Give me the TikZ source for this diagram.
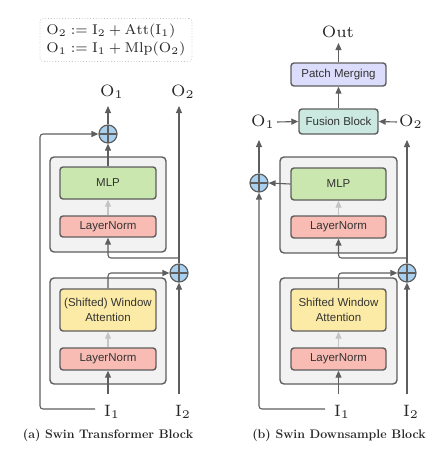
\documentclass[tikz,border=0pt]{standalone}
\usepackage{fontspec}
\newfontfamily\boxfont{Liberation Sans}
\usetikzlibrary{arrows.meta,calc}
\definecolor{lnc}{HTML}{5E5E5E}
\definecolor{graybg}{HTML}{F2F2F2}
\definecolor{mlpc}{HTML}{C9E7AE}
\definecolor{lnormc}{HTML}{F8BCB4}
\definecolor{attc}{HTML}{FCEBA6}
\definecolor{fusc}{HTML}{CBE9E1}
\definecolor{pmc}{HTML}{DCDCFC}
\definecolor{plusc}{HTML}{A9D0EE}
\definecolor{lightarr}{HTML}{C4C4C4}
\definecolor{txtc}{HTML}{333333}
\newcommand{\biglbl}[1]{\scalebox{2.35}{\fontsize{7}{8}\selectfont #1}}
\tikzset{
  arr/.style={draw=lnc,line width=1.1pt,-{Triangle[length=7pt,width=6pt]},rounded corners=3pt},
  lightarrow/.style={draw=lightarr,line width=1.1pt,-{Triangle[length=7pt,width=6pt]}},
  blk/.style={draw=lnc,line width=1.4pt,rounded corners=3pt,minimum width=96pt,align=center,
    font=\boxfont\fontsize{11.5}{14}\selectfont,text=txtc,inner sep=0pt},
  outer/.style={draw=lnc,line width=1.4pt,rounded corners=4pt,fill=graybg},
  plusnode/.style={circle,draw=lnc,line width=1.2pt,fill=plusc,minimum size=18pt,inner sep=0pt,
    path picture={\draw[lnc,line width=1.2pt] (path picture bounding box.north) -- (path picture bounding box.south)
      (path picture bounding box.west) -- (path picture bounding box.east);}},
  lbl/.style={inner sep=0pt,text=black!85},
  captext/.style={font=\bfseries\fontsize{12.4}{14}\selectfont,inner sep=0pt,text=black!85}
}
\begin{document}
\begin{tikzpicture}[x=1pt,y=-1pt]
\useasboundingbox (0,0) rectangle (447,455);
% ---------- formula box
\node[draw=lightarr,dotted,line width=0.8pt,rounded corners=3pt,minimum width=152pt,minimum height=43pt,
  inner sep=0pt,text=black!85] (formula) at (116,40)
  {\scalebox{2.02}{\fontsize{7}{8.7}\selectfont\thickmuskip=4.5mu\medmuskip=3.5mu\begin{tabular}{@{}l@{}}$\mathrm{O}_2 := \mathrm{I}_2 + \mathrm{Att}(\mathrm{I}_1)$\\$\mathrm{O}_1 := \mathrm{I}_1 + \mathrm{Mlp}(\mathrm{O}_2)$\end{tabular}}};
% ================= left panel
\draw[outer] (50,157) rectangle (166,252);
\draw[outer] (50,278) rectangle (166,384);
\node[blk,fill=mlpc,minimum height=32pt] (mlpA) at (108,183) {MLP};
\node[blk,fill=lnormc,minimum height=21pt] (ln1A) at (108,226.5) {LayerNorm};
\node[blk,fill=attc,minimum height=42pt] (attA) at (108,310) {(Shifted) Window\\[1pt]Attention};
\node[blk,fill=lnormc,minimum height=22pt] (ln2A) at (108,359) {LayerNorm};
\node[plusnode] (p1A) at (108,134) {};
\node[plusnode] (p2A) at (179,273) {};
\node[lbl] (o1A) at (112,92) {\biglbl{$\mathrm{O}_1$}};
\node[lbl] (o2A) at (183,92) {\biglbl{$\mathrm{O}_2$}};
\node[lbl] (i1A) at (112,412) {\biglbl{$\mathrm{I}_1$}};
\node[lbl] (i2A) at (183,412) {\biglbl{$\mathrm{I}_2$}};
\coordinate (o1Aend) at (108,106);
\coordinate (o2Aend) at (179,106);
\coordinate (i1Astart) at (108,394);
\coordinate (i2Astart) at (179,394);
\coordinate (skipA) at (95,409);
\coordinate (brA) at (179,258);
\draw[arr] (p1A.north) -- (o1Aend);
\draw[arr] (mlpA.north) -- (p1A.south);
\draw[lightarrow] (ln1A.north) -- (mlpA.south);
\draw[lightarrow] (ln2A.north) -- (attA.south);
\draw[arr] (i1Astart) -- (ln2A.south);
\draw[arr] (attA.north) |- (p2A.west);
\draw[arr] (i2Astart) -- (p2A.south);
\draw[arr] (p2A.north) -- (o2Aend);
\draw[arr] (brA) -| (ln1A.south);
\draw[arr] (skipA) -- (40,409) |- (p1A.west);
\node[captext] (capA) at (108,435) {(a) Swin Transformer Block};
% ================= right panel
\draw[outer] (280,157) rectangle (397,253);
\draw[outer] (280,278) rectangle (397,384);
\node[blk,fill=pmc,minimum width=95pt,minimum height=23pt] (pmB) at (338.5,74.5) {Patch Merging};
\node[blk,fill=fusc,minimum width=79pt,minimum height=25pt] (fuB) at (338.5,121.5) {Fusion Block};
\node[blk,fill=mlpc,minimum width=95pt,minimum height=32pt] (mlpB) at (338.5,184) {MLP};
\node[blk,fill=lnormc,minimum width=95pt,minimum height=22pt] (ln1B) at (338.5,227) {LayerNorm};
\node[blk,fill=attc,minimum width=95pt,minimum height=42pt] (attB) at (338.5,310) {Shifted Window\\[1pt]Attention};
\node[blk,fill=lnormc,minimum width=95pt,minimum height=22pt] (ln2B) at (338.5,359) {LayerNorm};
\node[plusnode] (p1B) at (259,183) {};
\node[plusnode] (p2B) at (407,273) {};
\node[lbl] (outB) at (338,32) {\biglbl{$\mathrm{Out}$}};
\node[lbl] (o1B) at (263,122) {\biglbl{$\mathrm{O}_1$}};
\node[lbl] (o2B) at (411,122) {\biglbl{$\mathrm{O}_2$}};
\node[lbl] (i1B) at (342,412) {\biglbl{$\mathrm{I}_1$}};
\node[lbl] (i2B) at (411,412) {\biglbl{$\mathrm{I}_2$}};
\coordinate (outBend) at (338.5,43);
\coordinate (o1Bstart) at (277,122);
\coordinate (o2Bstart) at (397,122);
\coordinate (p1Bend) at (259,140);
\coordinate (p2Bend) at (407,140);
\coordinate (i1Bstart) at (338.5,394);
\coordinate (i2Bstart) at (407,394);
\coordinate (skipB) at (325,409);
\coordinate (brB) at (407,258);
\draw[arr] (pmB.north) -- (outBend);
\draw[arr] (fuB.north) -- (pmB.south);
\draw[arr] (o1Bstart) -- (fuB.west);
\draw[arr] (o2Bstart) -- (fuB.east);
\draw[arr] (p1B.north) -- (p1Bend);
\draw[arr] (mlpB.west) -- (p1B.east);
\draw[lightarrow] (ln1B.north) -- (mlpB.south);
\draw[lightarrow] (ln2B.north) -- (attB.south);
\draw[arr] (i1Bstart) -- (ln2B.south);
\draw[arr] (attB.north) |- (p2B.west);
\draw[arr] (i2Bstart) -- (p2B.south);
\draw[arr] (p2B.north) -- (p2Bend);
\draw[arr] (brB) -| (ln1B.south);
\draw[arr] (skipB) -- (259,409) -- (p1B.south);
\node[captext] (capB) at (339,435) {(b) Swin Downsample Block};
\end{tikzpicture}
\end{document}
